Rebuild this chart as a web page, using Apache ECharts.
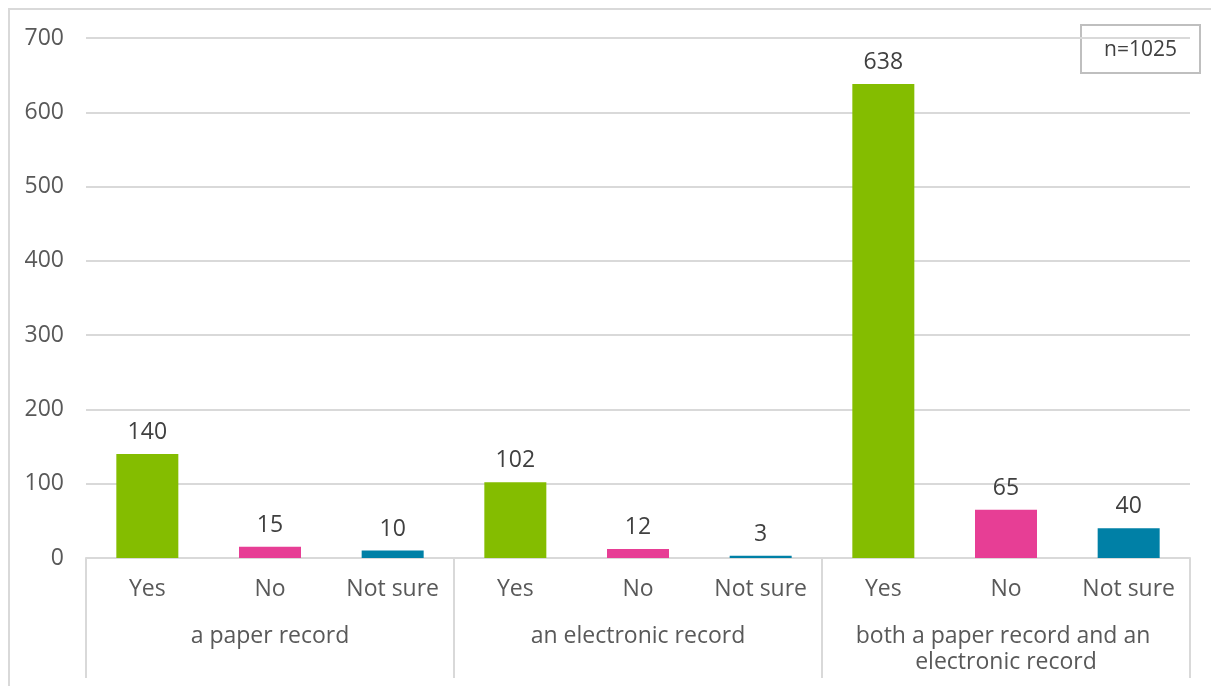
<!DOCTYPE html>
<html>
<head>
<meta charset="utf-8">
<script src="https://cdn.jsdelivr.net/npm/echarts@6/dist/echarts.min.js"></script>
<style>
  html, body { margin: 0; padding: 0; background: #ffffff; }
  #chart { width: 1211px; height: 686px; }
</style>
</head>
<body>
<div id="chart"></div>
<script>
// Responses within each record type
const responses = ['Yes', 'No', 'Not sure'];
// Record types (outer category level)
const recordTypes = ['a paper record', 'an electronic record', 'both a paper record and an electronic record'];
// Counts per record type, in the order of responses
const paperCounts = [140, 15, 10];
const electronicCounts = [102, 12, 3];
const bothCounts = [638, 65, 40];
// Bar colour for each response
const responseColors = ['#84bd00', '#e73e95', '#0080a6'];
// Value axis ticks
const yTicks = [0, 100, 200, 300, 400, 500, 600, 700];
const sampleNote = 'n=1025';

const groups = [paperCounts, electronicCounts, bothCounts];
const innerCategories = [];
const barData = [];
groups.forEach(function (counts) {
  counts.forEach(function (v, i) {
    innerCategories.push(responses[i]);
    barData.push({ value: v, itemStyle: { color: responseColors[i] } });
  });
});

const FONT = 'Open Sans';
const FS = 23;
const TEXT = '#595959';
const LINE = '#d9d9d9';

const chart = echarts.init(document.getElementById('chart'), null, { renderer: 'canvas' });
chart.setOption({
  animation: false,
  backgroundColor: '#ffffff',
  grid: { left: 86, right: 21, top: 38, bottom: 128, containLabel: false },
  graphic: [
    {
      type: 'rect', silent: true, z: -10,
      shape: { x: 9, y: 9, width: 1230, height: 700 },
      style: { fill: 'none', stroke: LINE, lineWidth: 2 }
    },
    {
      type: 'group', left: 1080, top: 24, z: 100,
      children: [
        { type: 'rect', shape: { x: 0, y: 0, width: 119, height: 48 },
          style: { fill: '#ffffff', stroke: '#bfbfbf', lineWidth: 2 } },
        { type: 'text', x: 59.5, y: 25,
          style: { text: sampleNote, fontFamily: FONT, fontSize: 21, fill: '#404040',
                   align: 'center', verticalAlign: 'middle' } }
      ]
    }
  ],
  xAxis: [
    {
      type: 'category',
      data: innerCategories,
      position: 'bottom',
      boundaryGap: true,
      axisLine: { show: true, lineStyle: { color: LINE, width: 2 } },
      axisTick: { show: false },
      axisLabel: { interval: 0, margin: 20, color: TEXT, fontFamily: FONT, fontSize: FS }
    },
    {
      type: 'category',
      data: recordTypes,
      position: 'bottom',
      boundaryGap: true,
      axisLine: { show: false },
      axisTick: { show: true, interval: 0, length: 120, lineStyle: { color: LINE, width: 2 } },
      axisLabel: {
        interval: 0, margin: 65, color: TEXT, fontFamily: FONT, fontSize: FS,
        width: 330, overflow: 'break', lineHeight: 26
      }
    }
  ],
  yAxis: {
    type: 'value',
    min: yTicks[0],
    max: yTicks[yTicks.length - 1],
    interval: yTicks[1] - yTicks[0],
    axisLine: { show: false },
    axisTick: { show: false },
    splitLine: { lineStyle: { color: LINE, width: 2 } },
    axisLabel: { margin: 22, color: TEXT, fontFamily: FONT, fontSize: FS }
  },
  series: [
    {
      type: 'bar',
      xAxisIndex: 0,
      data: barData,
      barWidth: 62,
      label: {
        show: true, position: 'top', distance: 10,
        color: '#404040', fontFamily: FONT, fontSize: FS
      }
    }
  ]
});
</script>
</body>
</html>
